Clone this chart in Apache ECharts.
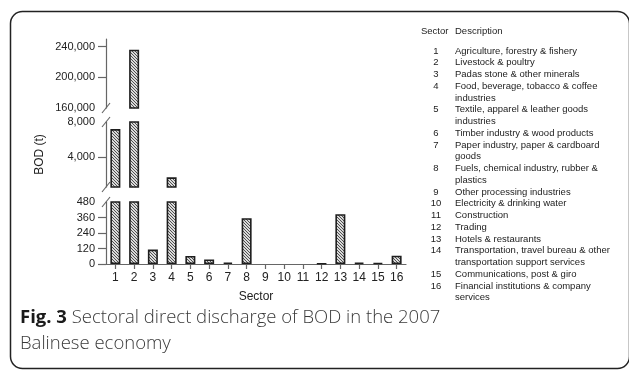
<!DOCTYPE html>
<html>
<head>
<meta charset="utf-8">
<script src="https://cdn.jsdelivr.net/npm/echarts@6/dist/echarts.min.js"></script>
<style>
  html, body { margin: 0; padding: 0; background: #fff; }
  #chart { width: 629px; height: 373px; }
</style>
</head>
<body>
<div id="chart"></div>
<script>
// Sectors 1..16 and their direct BOD discharge (tonnes)
const categories = ['1', '2', '3', '4', '5', '6', '7', '8', '9', '10', '11', '12', '13', '14', '15', '16'];
const bodValues = [7200, 236000, 112, 1700, 62, 35, 12, 355, 0, 0, 0, 3, 385, 10, 8, 64];

// Broken value axis: three stacked segments, each with its own range
const upperRange = [160000, 250000];
const middleRange = [600, 8000];
const lowerRange = [0, 480];
const upperLabels = [160000, 200000, 240000];
const upperTicks = [200000, 240000];
const middleLabels = [4000, 8000];
const middleTicks = [4000];
const lowerLabels = [0, 120, 240, 360, 480];
const lowerTicks = [0, 120, 240, 360];

// Sector key shown beside the chart
const sectorNumbers = ['1', '2', '3', '4', '5', '6', '7', '8', '9', '10', '11', '12', '13', '14', '15', '16'];
const sectorDescriptions = [
  'Agriculture, forestry & fishery',
  'Livestock & poultry',
  'Padas stone & other minerals',
  'Food, beverage, tobacco & coffee\nindustries',
  'Textile, apparel & leather goods\nindustries',
  'Timber industry & wood products',
  'Paper industry, paper & cardboard\ngoods',
  'Fuels, chemical industry, rubber &\nplastics',
  'Other processing industries',
  'Electricity & drinking water',
  'Construction',
  'Trading',
  'Hotels & restaurants',
  'Transportation, travel bureau & other\ntransportation support services',
  'Communications, post & giro',
  'Financial institutions & company\nservices'
];

const captionBold = 'Fig. 3';
const captionLines = [' Sectoral direct discharge of BOD in the 2007', 'Balinese economy'];

// ---- styling ----
const AXIS_COLOR = '#666';
const TEXT_COLOR = '#222';
const PLOT_LEFT = 106;
const PLOT_WIDTH = 300;

const segments = [
  { top: 39,  height: 69, range: upperRange,  labels: upperLabels,  ticks: upperTicks },
  { top: 122, height: 65, range: middleRange, labels: middleLabels, ticks: middleTicks },
  { top: 202, height: 62, range: lowerRange,  labels: lowerLabels,  ticks: lowerTicks }
];

// diagonal hatch fill for the bars
function hatchPattern() {
  const c = document.createElement('canvas');
  c.width = 3; c.height = 3;
  const g = c.getContext('2d');
  g.fillStyle = '#dadada';
  g.fillRect(0, 0, 3, 3);
  g.fillStyle = '#505050';
  for (let i = 0; i < 3; i++) g.fillRect(i, i, 1, 1);
  return c;
}
const hatch = { image: hatchPattern(), repeat: 'repeat' };

const fmt = v => Number(v).toLocaleString('en-US');
const barData = bodValues.map(v => (v === 0 ? '-' : v));

const lastSeg = segments.length - 1;

const option = {
  animation: false,
  backgroundColor: '#fff',
  grid: segments.map(s => ({
    left: PLOT_LEFT, width: PLOT_WIDTH, top: s.top, height: s.height, containLabel: false
  })),
  xAxis: segments.map((s, i) => ({
    type: 'category',
    gridIndex: i,
    data: categories,
    show: i === lastSeg,
    axisLine: { show: true, lineStyle: { color: AXIS_COLOR, width: 1.2 } },
    axisTick: { show: true, alignWithLabel: true, length: 5, lineStyle: { color: AXIS_COLOR, width: 1.2 } },
    axisLabel: { fontFamily: 'Liberation Sans', fontSize: 12, color: TEXT_COLOR, margin: 8, interval: 0 },
    name: i === lastSeg ? 'Sector' : '',
    nameLocation: 'middle',
    nameGap: 27,
    nameTextStyle: { fontFamily: 'Liberation Sans', fontSize: 12, color: TEXT_COLOR }
  })),
  yAxis: segments.map((s, i) => ({
    type: 'value',
    gridIndex: i,
    min: s.range[0],
    max: s.range[1],
    splitLine: { show: false },
    axisLine: { show: true, lineStyle: { color: AXIS_COLOR, width: 1.2 } },
    axisTick: { show: true, length: 8, customValues: s.ticks, lineStyle: { color: AXIS_COLOR, width: 1.2 } },
    axisLabel: {
      customValues: s.labels,
      formatter: fmt,
      fontFamily: 'Liberation Sans',
      fontSize: 11,
      color: TEXT_COLOR,
      margin: 11
    },
    name: i === 1 ? 'BOD (t)' : '',
    nameLocation: 'middle',
    nameGap: 60,
    nameRotate: 90,
    nameTextStyle: { fontFamily: 'Liberation Sans', fontSize: 12, color: TEXT_COLOR }
  })),
  series: segments.map((s, i) => ({
    type: 'bar',
    xAxisIndex: i,
    yAxisIndex: i,
    data: barData,
    barWidth: 10,
    clip: true,
    silent: true,
    itemStyle: { color: hatch, borderColor: '#1e1e1e', borderWidth: 1.6 }
  }))
};

const chart = echarts.init(document.getElementById('chart'), null, { renderer: 'canvas' });
chart.setOption(option);

// ---- decorations: break marks, sector key, caption, frame ----
const graphics = [];

// frame around the figure
graphics.push({
  type: 'rect',
  shape: { x: 10.5, y: 11.5, width: 619, height: 357, r: 12 },
  style: { fill: null, stroke: '#222', lineWidth: 1.5 },
  silent: true
});

// slanted break marks at the cut ends of each axis segment
const breakEnds = [
  { axis: 0, value: upperRange[0] },
  { axis: 1, value: middleRange[1] },
  { axis: 1, value: middleRange[0] },
  { axis: 2, value: lowerRange[1] }
];
breakEnds.forEach(b => {
  const p = chart.convertToPixel({ xAxisIndex: b.axis, yAxisIndex: b.axis }, [0, b.value]);
  const y = p[1];
  const x = PLOT_LEFT;
  graphics.push({
    type: 'line',
    shape: { x1: x - 4, y1: y + 5, x2: x + 4, y2: y - 5 },
    style: { stroke: AXIS_COLOR, lineWidth: 1.2 },
    silent: true
  });
});

// sector key
const KEY_FONT = '9.5px "Liberation Sans", Arial, sans-serif';
const KEY_LH = 11.75;
const keyNumX = 436;
const keyTextX = 455;
const keyFirstLine = 51;
graphics.push({
  type: 'text', x: 421, y: 31, silent: true,
  style: { text: 'Sector', font: KEY_FONT, fill: TEXT_COLOR, verticalAlign: 'middle' }
});
graphics.push({
  type: 'text', x: keyTextX, y: 31, silent: true,
  style: { text: 'Description', font: KEY_FONT, fill: TEXT_COLOR, verticalAlign: 'middle' }
});
let line = 0;
sectorDescriptions.forEach((desc, i) => {
  const top = keyFirstLine - KEY_LH / 2 + line * KEY_LH;
  graphics.push({
    type: 'text', x: keyNumX, y: top, silent: true,
    style: { text: sectorNumbers[i], font: KEY_FONT, fill: TEXT_COLOR, align: 'center', verticalAlign: 'top', lineHeight: KEY_LH }
  });
  graphics.push({
    type: 'text', x: keyTextX, y: top, silent: true,
    style: { text: desc, font: KEY_FONT, fill: TEXT_COLOR, align: 'left', verticalAlign: 'top', lineHeight: KEY_LH }
  });
  line += desc.split('\n').length;
});

// figure caption
graphics.push({
  type: 'text', x: 20, y: 305, silent: true,
  style: {
    text: '{b|' + captionBold + '}{r|' + captionLines[0] + '}\n{r|' + captionLines[1] + '}',
    fill: '#333',
    verticalAlign: 'top',
    rich: {
      b: { fontFamily: 'Open Sans', fontWeight: 'bold', fontSize: 18.5, lineHeight: 26, fill: '#1a1a1a' },
      r: { fontFamily: 'Open Sans', fontWeight: 300, fontSize: 18.5, lineHeight: 26, fill: '#3a3a3a' }
    }
  }
});

chart.setOption({ graphic: { elements: graphics } });
</script>
</body>
</html>
